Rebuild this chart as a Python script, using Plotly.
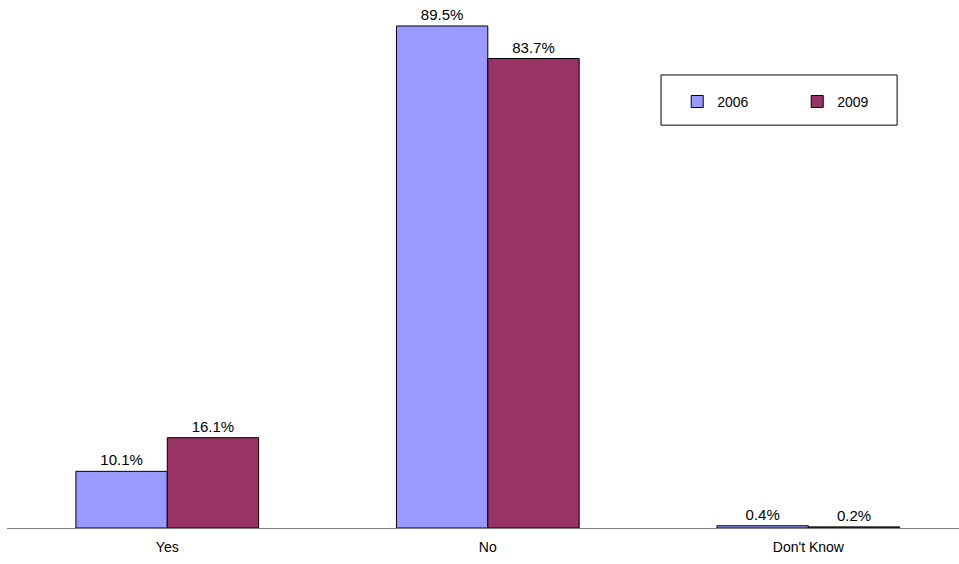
import plotly.graph_objects as go

categories = ["Yes", "No", "Don't Know"]
values_2006 = [10.1, 89.5, 0.4]
values_2009 = [16.1, 83.7, 0.2]
series_names = ["2006", "2009"]

FONT = "Liberation Sans, Arial, sans-serif"

fig = go.Figure()
fig.add_trace(go.Bar(
    x=categories, y=values_2006, name=series_names[0],
    marker=dict(color="#9999FF", line=dict(color="#000000", width=1)),
    texttemplate="%{y:.1f}%", textposition="outside",
    textfont=dict(family=FONT, size=15, color="#000000"),
    cliponaxis=False,
))
fig.add_trace(go.Bar(
    x=categories, y=values_2009, name=series_names[1],
    marker=dict(color="#993366", line=dict(color="#000000", width=1)),
    texttemplate="%{y:.1f}%", textposition="outside",
    textfont=dict(family=FONT, size=15, color="#000000"),
    cliponaxis=False,
))

fig.update_layout(
    width=959, height=564,
    margin=dict(l=7, r=0, t=0, b=36),
    paper_bgcolor="white", plot_bgcolor="white",
    barmode="group", bargap=0.43, bargroupgap=0,
    font=dict(family=FONT, size=14, color="#000000"),
    showlegend=True,
    legend=dict(
        orientation="h", x=0.704, y=0.807, xanchor="left", yanchor="middle",
        bgcolor="rgba(0,0,0,0)", borderwidth=0,
        entrywidth=75, entrywidthmode="pixels",
        font=dict(family=FONT, size=14, color="#000000"),
    ),
    xaxis=dict(
        range=[-0.5, 2.47], showline=True, linecolor="#808080", linewidth=1,
        showgrid=False, zeroline=False, ticks="outside", ticklen=6,
        tickcolor="rgba(0,0,0,0)",
        tickfont=dict(family=FONT, size=14, color="#000000"),
    ),
    yaxis=dict(
        range=[0, 94.13], visible=False, showgrid=False, zeroline=False,
    ),
    shapes=[dict(
        type="rect", xref="paper", yref="paper",
        x0=0.687, x1=0.935, y0=0.763, y1=0.858,
        line=dict(color="#000000", width=1), fillcolor="rgba(0,0,0,0)",
    )],
)

fig.write_html(
    "out.html",
    config={"displayModeBar": False},
    post_script="document.body.style.margin='0';document.body.style.overflow='hidden';",
)
